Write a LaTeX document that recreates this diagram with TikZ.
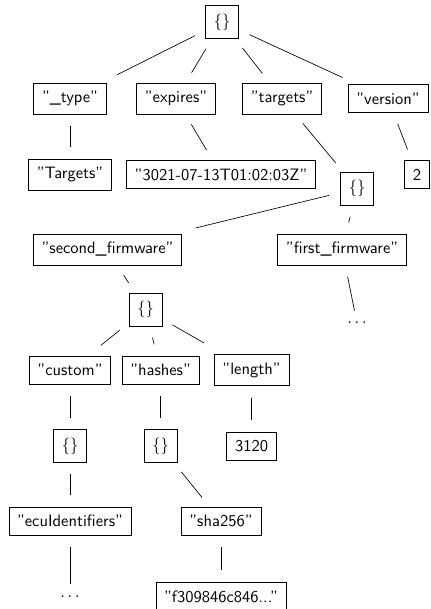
\documentclass[tikz,border=0pt]{standalone}
\begin{document}
\begin{tikzpicture}[
  box/.style={draw, font=\sffamily, inner sep=5pt},
  more/.style={font=\sffamily, inner sep=0pt},
  link/.style={shorten <=7pt, shorten >=7pt}]
  \useasboundingbox (0,0) rectangle (9.16,-12.97);
  % columns
  \def\cA{1.491} \def\cB{2.290} \def\cC{3.099} \def\cD{3.419}
  \def\cE{3.749} \def\cF{4.707} \def\cG{4.729} \def\cH{5.357}
  \def\cI{6.007} \def\cJ{7.285} \def\cK{7.604} \def\cL{8.264} \def\cM{8.882}
  % rows
  \def\rA{-0.469} \def\rB{-2.098} \def\rC{-3.717} \def\rD{-4.015}
  \def\rE{-5.314} \def\rF{-6.592} \def\rG{-6.880} \def\rH{-7.881}
  \def\rI{-9.500} \def\rJ{-11.097} \def\rK{-12.705}
  % top level
  \node[box] (root) at (\cG, \rA) {\{\}};
  \node[box] (type) at (\cA, \rB) {"\_type"};
  \node[box] (expires) at (\cE, \rB) {"expires"};
  \node[box] (targets) at (\cI, \rB) {"targets"};
  \node[box] (version) at (\cL, \rB) {"version"};
  \node[box] (typeval) at (\cA, \rC) {"Targets"};
  \node[box] (expval) at (\cF, \rC) {"3021-07-13T01:02:03Z"};
  \node[box] (verval) at (\cM, \rC) {2};
  % targets
  \node[box] (tgtobj) at (\cK, \rD) {\{\}};
  \node[box] (secfw) at (\cB, \rE) {"second\_firmware"};
  \node[box] (firstfw) at (\cJ, \rE) {"first\_firmware"};
  \node[more] (fwdots) at (\cK, \rG) {$\ldots$};
  \node[box] (secobj) at (\cC, \rF) {\{\}};
  \node[box] (custom) at (\cA, \rH) {"custom"};
  \node[box] (hashes) at (\cD, \rH) {"hashes"};
  \node[box] (length) at (\cH, \rH) {"length"};
  \node[box] (custobj) at (\cA, \rI) {\{\}};
  \node[box] (hashobj) at (\cD, \rI) {\{\}};
  \node[box] (lenval) at (\cH, \rI) {3120};
  \node[box] (ecuids) at (\cA, \rJ) {"ecuIdentifiers"};
  \node[box] (sha) at (\cF, \rJ) {"sha256"};
  \node[more] (ecudots) at (\cA, \rK) {$\ldots$};
  \node[box] (shaval) at (\cF, \rK) {"f309846c846..."};
  % edges
  \foreach \a/\b in {root/expires, root/targets, type/typeval,
      expires/expval, targets/tgtobj, version/verval, tgtobj/firstfw,
      firstfw/fwdots, secfw/secobj, secobj/hashes, custom/custobj,
      hashes/hashobj, length/lenval, custobj/ecuids, hashobj/sha,
      ecuids/ecudots, sha/shaval} {
    \draw[link] (\a) -- (\b);
  }
  \draw[link, shorten >=10.5pt] (root) -- (type);
  \draw[link, shorten >=9.5pt] (root) -- (version);
  \draw[link, shorten >=15pt] (tgtobj) -- (secfw);
  \draw[link, shorten >=10pt] (secobj) -- (custom);
  \draw[link, shorten >=13.5pt] (secobj) -- (length);
\end{tikzpicture}
\end{document}
